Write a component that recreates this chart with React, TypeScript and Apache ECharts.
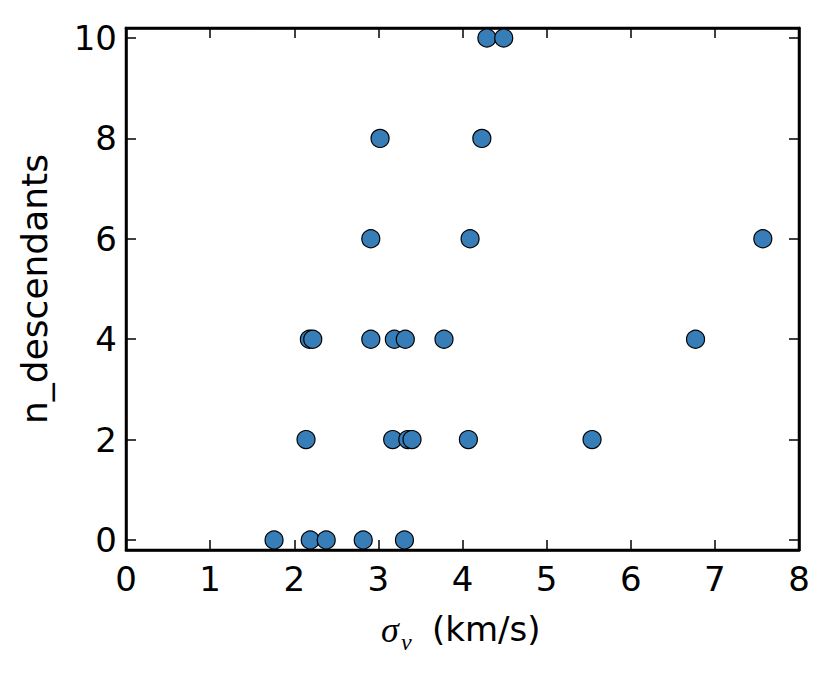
import React, { useEffect, useRef } from "react";
import * as echarts from "echarts";

const sigmaV: number[] = [
  4.29, 4.49,
  3.02, 4.23,
  2.91, 4.09, 7.57,
  2.18, 2.22, 2.91, 3.19, 3.32, 3.78, 6.77,
  2.14, 3.17, 3.35, 3.40, 4.07, 5.54,
  1.76, 2.19, 2.38, 2.82, 3.31,
];
const nDescendants: number[] = [
  10, 10,
  8, 8,
  6, 6, 6,
  4, 4, 4, 4, 4, 4, 4,
  2, 2, 2, 2, 2, 2,
  0, 0, 0, 0, 0,
];
const xTicks: number[] = [0, 1, 2, 3, 4, 5, 6, 7, 8];
const yTicks: number[] = [0, 2, 4, 6, 8, 10];
const yLabel = "n_descendants";

export default function App() {
  const ref = useRef<HTMLDivElement>(null);
  useEffect(() => {
    if (!ref.current) return;
    const chart = echarts.init(ref.current, undefined, { renderer: "svg" });
    const font = "DejaVu Sans";
    const tickStyle = { show: true, inside: true, length: 10, lineStyle: { color: "#000", width: 1.5 } };
    const lineStyle = { show: true, onZero: false, lineStyle: { color: "#000", width: 2.5 } };
    const points = sigmaV.map((x, i) => [x, nDescendants[i]]);
    chart.setOption({
      animation: false,
      backgroundColor: "#fff",
      grid: { left: 126, right: 31, top: 28, bottom: 127, show: true, borderColor: "#000", borderWidth: 2.5, backgroundColor: "transparent" },
      xAxis: [
        {
          type: "value", min: xTicks[0], max: xTicks[xTicks.length - 1], interval: 1, position: "bottom",
          axisLine: lineStyle,
          axisTick: tickStyle,
          splitLine: { show: false },
          axisLabel: { color: "#000", fontSize: 34, fontFamily: font, margin: 12 },
        },
        {
          type: "value", min: xTicks[0], max: xTicks[xTicks.length - 1], interval: 1, position: "top",
          axisLine: lineStyle,
          axisTick: tickStyle,
          splitLine: { show: false },
          axisLabel: { show: false },
        },
      ],
      yAxis: [
        {
          type: "value", min: -0.2, max: 10.2, position: "left",
          axisLine: lineStyle,
          axisTick: tickStyle,
          splitLine: { show: false },
          axisLabel: {
            color: "#000", fontSize: 34, fontFamily: font, margin: 9,
            showMinLabel: false, showMaxLabel: false,
            formatter: (v: number) => (yTicks.includes(v) ? String(v) : ""),
          },
          name: yLabel,
          nameLocation: "middle",
          nameRotate: 90,
          nameGap: 74,
          nameTextStyle: { color: "#000", fontSize: 36, fontFamily: font },
        },
        {
          type: "value", min: -0.2, max: 10.2, position: "right",
          axisLine: lineStyle,
          axisTick: tickStyle,
          splitLine: { show: false },
          axisLabel: { show: false },
        },
      ],
      graphic: [
        { type: "text", x: 381, y: 612, style: { text: "σ", font: "italic 36px 'Liberation Serif'", fill: "#000" } },
        { type: "text", x: 401, y: 630, style: { text: "v", font: "italic 24px 'Liberation Serif'", fill: "#000" } },
        { type: "text", x: 432, y: 612, style: { text: "(km/s)", font: "34px 'DejaVu Sans'", fill: "#000" } },
      ],
      series: [
        {
          type: "scatter",
          xAxisIndex: 0,
          yAxisIndex: 0,
          data: points,
          symbol: "circle",
          symbolSize: 18,
          itemStyle: { color: "#377eb8", borderColor: "#000", borderWidth: 1.2, opacity: 1 },
        },
      ],
    });
    return () => chart.dispose();
  }, []);
  return <div ref={ref} style={{ width: 830, height: 677, position: "absolute", left: 0, top: 0 }} />;
}
